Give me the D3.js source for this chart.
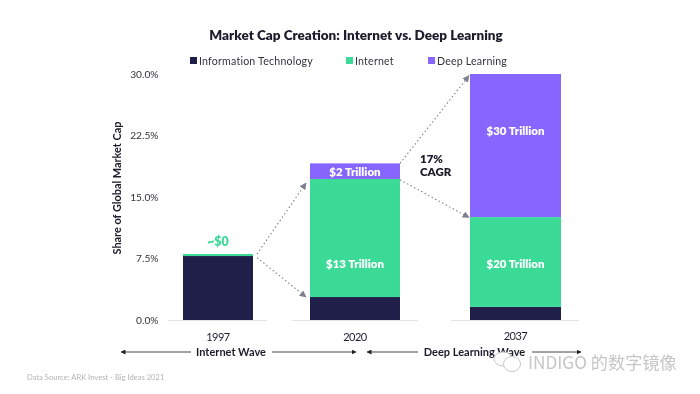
<!DOCTYPE html>
<html>
<head>
<meta charset="utf-8">
<script src="https://cdn.jsdelivr.net/npm/d3@7"></script>
<style>
  html, body { margin: 0; background: #fff; }
  svg { display: block; font-family: Lato, sans-serif; filter: blur(0.4px); }
</style>
</head>
<body>
<div id="chart"></div>
<script>
(function () {

    var years    = ["1997", "2020", "2037"];
    var itShare  = [7.8, 2.8, 1.6];
    var netShare = [0.25, 14.4, 10.95];
    var dlShare  = [0, 1.9, 17.45];
    var netLabel = ["", "$13 Trillion", "$20 Trillion"];
    var dlLabel  = ["", "$2 Trillion", "$30 Trillion"];
    var yTicks   = [0, 7.5, 15, 22.5, 30];

    var SERIES = [
        { name: "Information Technology", values: itShare,  color: "#1f1f4a", labels: null },
        { name: "Internet",               values: netShare, color: "#3bdb97", labels: netLabel },
        { name: "Deep Learning",          values: dlShare,  color: "#8666ff", labels: dlLabel }
    ];

    var INK = "#1c1c2c";

    var svg = d3.select("#chart").append("svg")
        .attr("width", 700).attr("height", 394);

    /* scales: the bars are unevenly spaced in the original */
    var x = d3.scaleOrdinal().domain(years).range([218, 355, 515.5]);
    var w = d3.scaleOrdinal().domain(years).range([70, 90, 91]);
    var y = d3.scaleLinear().domain([0, 30]).range([320, 74]);

    var defs = svg.append("defs");
    function marker(id, color, size) {
        defs.append("marker")
            .attr("id", id)
            .attr("viewBox", "0 0 10 10")
            .attr("refX", 9).attr("refY", 5)
            .attr("markerUnits", "userSpaceOnUse")
            .attr("markerWidth", size).attr("markerHeight", size)
            .attr("orient", "auto-start-reverse")
            .append("path")
            .attr("d", "M0,0L10,5L0,10Z")
            .attr("fill", color);
    }
    marker("arrow-grey", "#7d8090", 7);
    marker("arrow-dark", "#222", 5);

    /* title */
    svg.append("text")
        .attr("x", 356).attr("y", 40)
        .attr("text-anchor", "middle")
        .attr("font-size", 13.5).attr("font-weight", 800)
        .attr("fill", INK)
        .text("Market Cap Creation: Internet vs. Deep Learning");

    /* legend */
    var legendX = [190, 346, 428];
    SERIES.forEach(function (s, i) {
        var g = svg.append("g").attr("transform", "translate(" + legendX[i] + ",57)");
        g.append("rect").attr("width", 7).attr("height", 7).attr("fill", s.color);
        g.append("text")
            .attr("x", 9).attr("y", 7.5)
            .attr("font-size", 10.6).attr("letter-spacing", 0.2)
            .attr("fill", "#33333f")
            .text(s.name);
    });

    /* y axis */
    var axis = svg.append("g")
        .attr("transform", "translate(158.5,0)")
        .call(d3.axisLeft(y).tickValues(yTicks).tickSize(0).tickPadding(0)
            .tickFormat(function (v) { return v.toFixed(1) + "%"; }));
    axis.select(".domain").remove();
    axis.selectAll("text")
        .attr("font-family", "Lato, sans-serif")
        .attr("font-size", 10.2)
        .attr("fill", "#33333f");

    svg.append("text")
        .attr("transform", "translate(121,188) rotate(-90)")
        .attr("text-anchor", "middle")
        .attr("font-size", 10.9).attr("font-weight", 700)
        .attr("fill", INK)
        .text("Share of Global Market Cap");

    /* baseline under each bar */
    var basePad = [[15, 14], [18, 18], [19, 18]];
    years.forEach(function (yr, i) {
        svg.append("line")
            .attr("x1", x(yr) - w(yr) / 2 - basePad[i][0])
            .attr("x2", x(yr) + w(yr) / 2 + basePad[i][1])
            .attr("y1", y(0) + 0.5).attr("y2", y(0) + 0.5)
            .attr("stroke", "#e4e4e6");
    });

    /* stacked bars */
    var rows = years.map(function (yr, i) {
        return { year: yr, it: itShare[i], net: netShare[i], dl: dlShare[i] };
    });
    var stacked = d3.stack().keys(["it", "net", "dl"])(rows);

    stacked.forEach(function (layer, k) {
        svg.append("g").selectAll("rect")
            .data(layer)
            .enter().append("rect")
            .attr("x", function (d) { return x(d.data.year) - w(d.data.year) / 2; })
            .attr("width", function (d) { return w(d.data.year); })
            .attr("y", function (d) { return y(d[1]); })
            .attr("height", function (d) { return y(d[0]) - y(d[1]); })
            .attr("fill", SERIES[k].color);
    });

    /* value labels: the original does not centre them in their segments */
    var labelAt = [
        { text: dlLabel[1],  year: "2020", at: 18.0 },
        { text: netLabel[1], year: "2020", at: 6.85 },
        { text: dlLabel[2],  year: "2037", at: 23.0 },
        { text: netLabel[2], year: "2037", at: 6.85 }
    ];
    svg.append("g").selectAll("text")
        .data(labelAt)
        .enter().append("text")
        .attr("x", function (d) { return x(d.year); })
        .attr("y", function (d) { return y(d.at) + 4; })
        .attr("text-anchor", "middle")
        .attr("font-size", 11.5).attr("font-weight", 800)
        .attr("fill", "#fff")
        .text(function (d) { return d.text; });

    /* ~$0 label above the 1997 bar */
    svg.append("text")
        .attr("x", x("1997")).attr("y", y(8.05) - 8)
        .attr("text-anchor", "middle")
        .attr("font-size", 12.5).attr("font-weight", 800)
        .attr("fill", "#3bdb97")
        .text("~$0");

    /* year labels */
    svg.append("g").selectAll("text")
        .data(years)
        .enter().append("text")
        .attr("x", function (d) { return x(d); })
        .attr("y", function (d) { return d === "2037" ? 340 : 341; })
        .attr("text-anchor", "middle")
        .attr("font-size", 11).attr("letter-spacing", -0.5)
        .attr("fill", INK)
        .text(function (d) { return d; });

    /* dotted growth arrows, anchored on the bars */
    function edge(yr, side) { return x(yr) + side * w(yr) / 2; }
    var links = [
        [edge("1997", 1) + 4, y(8.05),  edge("2020", -1) - 4, y(16.7)],
        [edge("1997", 1) + 4, y(7.6),   edge("2020", -1) - 4, y(2.8)],
        [edge("2020", 1),     y(19.1),  edge("2037", -1) - 1, y(29.8)],
        [edge("2020", 1),     y(17.1),  edge("2037", -1) - 1, y(12.5)]
    ];
    svg.append("g").selectAll("line")
        .data(links)
        .enter().append("line")
        .attr("x1", function (d) { return d[0]; })
        .attr("y1", function (d) { return d[1]; })
        .attr("x2", function (d) { return d[2]; })
        .attr("y2", function (d) { return d[3]; })
        .attr("stroke", "#7d8090")
        .attr("stroke-width", 1.1)
        .attr("stroke-dasharray", "1.5 2.5")
        .attr("marker-end", "url(#arrow-grey)");

    /* CAGR note */
    var cagr = svg.append("text")
        .attr("font-size", 11.5).attr("font-weight", 800)
        .attr("fill", INK);
    cagr.append("tspan").attr("x", 420).attr("y", 163).text("17%");
    cagr.append("tspan").attr("x", 420).attr("y", 176).text("CAGR");

    /* wave brackets */
    var waves = [
        { name: "Internet Wave",      x0: 121, x1: 356, tx: 231,   gap: [191, 272] },
        { name: "Deep Learning Wave", x0: 367, x1: 581, tx: 474.5, gap: [418, 532] }
    ];
    waves.forEach(function (v) {
        [[v.gap[0], v.x0], [v.gap[1], v.x1]].forEach(function (p) {
            svg.append("line")
                .attr("x1", p[0]).attr("x2", p[1])
                .attr("y1", 352).attr("y2", 352)
                .attr("stroke", "#444")
                .attr("stroke-width", 1)
                .attr("marker-end", "url(#arrow-dark)");
        });
        svg.append("text")
            .attr("x", v.tx).attr("y", 356)
            .attr("text-anchor", "middle")
            .attr("font-size", 11).attr("font-weight", 700)
            .attr("fill", INK)
            .text(v.name);
    });

    /* source */
    svg.append("text")
        .attr("x", 27).attr("y", 380)
        .attr("font-size", 7.6)
        .attr("fill", "#b4b4b8")
        .text("Data Source: ARK Invest - Big Ideas 2021");

    /* watermark */
    var mark = svg.append("g").attr("fill", "#fff").attr("stroke", "#c8c8c8").attr("stroke-width", 1);
    mark.append("ellipse").attr("cx", 503).attr("cy", 359).attr("rx", 9).attr("ry", 7);
    mark.append("ellipse").attr("cx", 512).attr("cy", 364).attr("rx", 8.5).attr("ry", 7.5);
    svg.append("text")
        .attr("x", 528).attr("y", 369)
        .attr("font-family", "'Noto Sans CJK SC', 'Noto Sans', sans-serif")
        .attr("font-size", 17.2)
        .attr("fill", "#c6c6c6")
        .text("INDIGO 的数字镜像");

}());
</script>
</body>
</html>
